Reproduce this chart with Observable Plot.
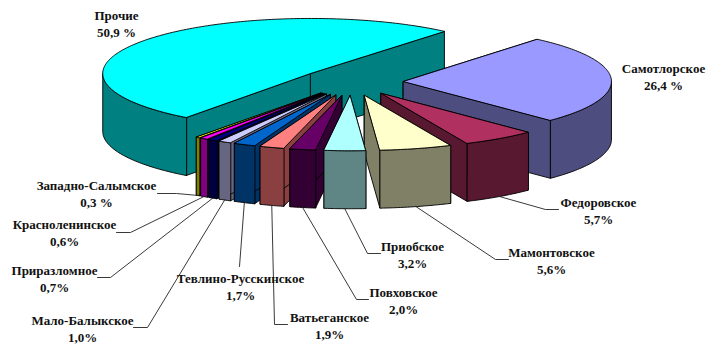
<!DOCTYPE html>
<html lang="ru">
<head>
<meta charset="utf-8">
<title>Доли месторождений</title>
<script src="https://cdn.jsdelivr.net/npm/d3@7"></script>
<script src="https://cdn.jsdelivr.net/npm/@observablehq/plot@0.6"></script>
<style>
  html, body { margin: 0; padding: 0; background: #fff; }
  svg { display: block; }
</style>
</head>
<body>
<div id="chart"></div>
<script>
// Fields in pie order, clockwise from the start of the Самотлорское sector
const fields = ["Самотлорское", "Федоровское", "Мамонтовское", "Приобское", "Повховское", "Ватьеганское",
  "Тевлино-Русскинское", "Мало-Балыкское", "Приразломное", "Красноленинское", "Западно-Салымское", "Прочие"];
const shares = [26.4, 5.7, 5.6, 3.2, 2.0, 1.9, 1.7, 1.0, 0.7, 0.6, 0.3, 50.9];
const shareSuffix = [" %", "%", "%", "%", "%", "%", "%", "%", "%", "%", " %", " %"];

const topColors = ["#9999ff", "#b03060", "#ffffcc", "#b0ffff", "#660066", "#ff8080",
  "#0066cc", "#ccccff", "#000080", "#ff00ff", "#ffff00", "#00ffff"];
const sideColors = ["#4d4d80", "#581830", "#808066", "#5f8585", "#330033", "#8a4040",
  "#003366", "#666680", "#000040", "#800080", "#808000", "#008080"];

// Label centres and the leader path from each sector to its label
const labelX = [663, 598, 551, 412, 403, 329, 240, 82, 54, 64, 96, 116];
const labelY = [76, 210, 260, 254, 300, 325, 286, 328, 278, 232, 193, 23];
const leaderBends = [
  [], [[545, 209], [558, 209]], [[495, 259], [508, 259]], [[367, 253], [380, 253]],
  [[356, 299], [368, 299]], [[274, 324], [287, 324]], [[239, 266]],
  [[147, 327], [133, 327]], [[110, 277], [97, 277]], [[130, 232], [116, 232]],
  [[176, 193], [157, 193]], []
];

// Projection of the tilted pie
const cx = 351, cy = 81.5, rx = 208, ry = 55, depth = 58, explode = 0.25, startAngle = 50;
const rad = (d) => (d * Math.PI) / 180;
const onEllipse = (ox, oy, a, scale = 1, drop = 0) => ({
  x: ox + rx * scale * Math.cos(rad(a)),
  y: oy - ry * scale * Math.sin(rad(a)) + drop
});

let angle = startAngle;
const sectors = fields.map((name, i) => {
  const sweep = (shares[i] / 100) * 360;
  const a0 = angle, a1 = angle - sweep, mid = (a0 + a1) / 2;
  angle = a1;
  const apex = onEllipse(cx, cy, mid, explode);
  return {name, i, a0, a1, mid, apex};
});

const arcAngles = (from, to) => {
  const n = Math.max(2, Math.ceil(Math.abs(from - to)));
  return d3.range(n + 1).map((k) => from + ((to - from) * k) / n);
};

// Only the part of the rim facing the viewer (sine below zero) gets an outer wall
const frontSpans = (a0, a1) => {
  const spans = [];
  for (let k = -2; k <= 1; ++k) {
    const lo = Math.max(a1, 180 + 360 * k), hi = Math.min(a0, 360 + 360 * k);
    if (hi > lo) spans.push([hi, lo]);
  }
  return spans;
};

const polygon = (pts, fill) => Plot.line(pts, {
  x: "x", y: "y", fill, stroke: "#000", strokeWidth: 0.9, curve: "linear-closed", strokeLinejoin: "round"
});

const facing = (s) => {
  let d = Math.abs(s.mid + 90) % 360;
  return d > 180 ? 360 - d : d;
};

const sectorMarks = d3.sort(sectors, (s) => -facing(s)).flatMap((s) => {
  const {apex, a0, a1, i} = s;
  const wall = (a) => {
    const c = onEllipse(apex.x, apex.y, a);
    return polygon([apex, c, {x: c.x, y: c.y + depth}, {x: apex.x, y: apex.y + depth}], sideColors[i]);
  };
  const rims = frontSpans(a0, a1).map(([hi, lo]) => {
    const upper = arcAngles(hi, lo).map((a) => onEllipse(apex.x, apex.y, a));
    const lower = arcAngles(lo, hi).map((a) => onEllipse(apex.x, apex.y, a, 1, depth));
    return polygon([...upper, ...lower], sideColors[i]);
  });
  const top = [apex, ...arcAngles(a0, a1).map((a) => onEllipse(apex.x, apex.y, a))];
  return [wall(a0), wall(a1), ...rims, polygon(top, topColors[i])];
});

const leaders = sectors.filter((s) => leaderBends[s.i].length).map((s) => {
  const start = onEllipse(s.apex.x, s.apex.y, s.mid, 1, depth);
  const pts = [start, ...leaderBends[s.i].map(([x, y]) => ({x, y}))];
  return Plot.line(pts, {x: "x", y: "y", stroke: "#222", strokeWidth: 0.9});
});

const labels = sectors.map((s) => ({
  x: labelX[s.i],
  y: labelY[s.i],
  text: `${s.name}\n${shares[s.i].toFixed(1).replace(".", ",")}${shareSuffix[s.i]}`
}));

const chart = Plot.plot({
  width: 706,
  height: 345,
  margin: 0,
  x: {domain: [0, 706], range: [0, 706], axis: null},
  y: {domain: [0, 345], range: [0, 345], axis: null},
  marks: [
    ...sectorMarks,
    ...leaders,
    Plot.text(labels, {
      x: "x", y: "y", text: "text", fill: "#111", fontWeight: "bold",
      fontFamily: "'Liberation Serif', serif", fontSize: 13, lineHeight: 1.3
    })
  ]
});
chart.setAttribute("font-family", "'Liberation Serif', serif");
document.getElementById("chart").append(chart);
</script>
</body>
</html>
